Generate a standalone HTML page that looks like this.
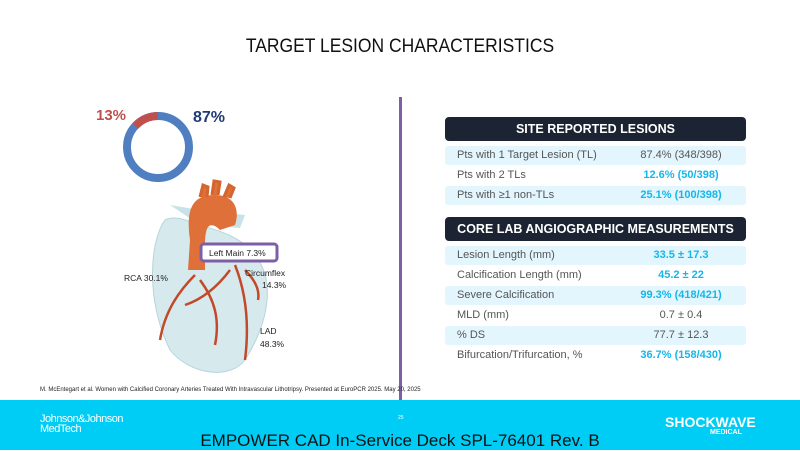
<!DOCTYPE html>
<html><head><style>
body{margin:0;width:800px;height:450px;overflow:hidden;background:#fff;font-family:"Liberation Sans",sans-serif;position:relative}
.a{position:absolute}
.hdr{position:absolute;left:445px;width:301px;height:24px;background:#1c2433;border-radius:4px;color:#fff;font-weight:bold;font-size:12.5px;text-align:center;line-height:24px}
.row{position:absolute;left:445px;width:301px;height:19px;font-size:11px;color:#555;line-height:19px;border-radius:3px}
.row.s{background:#e3f5fd}
.row span{position:absolute;left:12px}
.row b{position:absolute;left:180px;width:112px;text-align:center;font-weight:normal}
.row b.c{color:#14b7ea;font-weight:bold}
</style></head><body>
<div class="a" style="left:0;top:36px;width:800px;text-align:center;font-size:19px;color:#111;transform:scaleX(0.92)">TARGET LESION CHARACTERISTICS</div>
<div class="a" style="left:399px;top:97px;width:3px;height:303px;background:#7d5fa6"></div>
<svg class="a" style="left:0;top:0" width="400" height="400">
<circle cx="158" cy="147" r="31" fill="none" stroke="#4f7fc0" stroke-width="8"/>
<path d="M158 116 A31 31 0 0 0 135.3 126" fill="none" stroke="#c0504d" stroke-width="8"/>
<text x="96" y="120" font-size="15" font-weight="bold" fill="#c0504d" font-family="Liberation Sans">13%</text>
<text x="193" y="122" font-size="16" font-weight="bold" fill="#1f3b73" font-family="Liberation Sans">87%</text>
<path d="M165 220 C150 240 145 300 170 350 C190 375 230 380 245 360 C270 320 275 280 255 255 C240 235 215 230 200 225 C185 220 175 215 165 220Z" fill="#d6eaee" stroke="#b7d4da"/>
<path d="M170 205 L200 210 L245 215 L240 228 L200 225Z" fill="#c9e2e8"/>
<path d="M190 240 C185 205 195 195 215 195 C235 195 240 210 235 225 L220 230 C210 220 205 225 205 245 L205 270 L188 270Z" fill="#e0703a"/>
<path d="M200 197 l3 -12 l5 2 l-1 10 M212 195 l2 -14 l6 1 l-2 13 M224 197 l5 -12 l5 3 l-4 10" fill="#e0703a" stroke="#d26530" stroke-width="3"/>
<path d="M195 275 C180 290 165 310 160 340 M200 280 C215 300 220 320 215 345 M235 265 C245 290 250 320 245 360 M230 270 C215 290 200 300 185 305 M245 270 C255 280 260 290 258 300" fill="none" stroke="#c2492a" stroke-width="2.5"/>
<rect x="201" y="244" width="76" height="17" rx="3" fill="#fff" stroke="#7d5fa6" stroke-width="3"/>
<g font-family="Liberation Sans" font-size="8.5" fill="#222">
<text x="209" y="256">Left Main 7.3%</text>
<text x="124" y="281">RCA 30.1%</text>
<text x="245" y="276">Circumflex</text>
<text x="262" y="288">14.3%</text>
<text x="260" y="334">LAD</text>
<text x="260" y="347">48.3%</text>
</g>
</svg>
<div class="hdr" style="top:117px">SITE REPORTED LESIONS</div>
<div class="row s" style="top:146px"><span>Pts with 1 Target Lesion (TL)</span><b>87.4% (348/398)</b></div>
<div class="row" style="top:166px"><span>Pts with 2 TLs</span><b class="c">12.6% (50/398)</b></div>
<div class="row s" style="top:186px"><span>Pts with ≥1 non-TLs</span><b class="c">25.1% (100/398)</b></div>
<div class="hdr" style="top:217px">CORE LAB ANGIOGRAPHIC MEASUREMENTS</div>
<div class="row s" style="top:246px"><span>Lesion Length (mm)</span><b class="c">33.5 ± 17.3</b></div>
<div class="row" style="top:266px"><span>Calcification Length (mm)</span><b class="c">45.2 ± 22</b></div>
<div class="row s" style="top:286px"><span>Severe Calcification</span><b class="c">99.3% (418/421)</b></div>
<div class="row" style="top:306px"><span>MLD (mm)</span><b>0.7 ± 0.4</b></div>
<div class="row s" style="top:326px"><span>% DS</span><b>77.7 ± 12.3</b></div>
<div class="row" style="top:346px"><span>Bifurcation/Trifurcation, %</span><b class="c">36.7% (158/430)</b></div>
<div class="a" style="left:40px;top:387px;font-size:6px;color:#222">M. McEntegart et al. Women with Calcified Coronary Arteries Treated With Intravascular Lithotripsy. Presented at EuroPCR 2025. May 20, 2025</div>
<div class="a" style="left:0;top:400px;width:800px;height:50px;background:#00cdf5"></div>
<div class="a" style="left:40px;top:414px;font-size:11px;line-height:10px;color:#fff;letter-spacing:-0.5px">Johnson&amp;Johnson<br>MedTech</div>
<div class="a" style="left:398px;top:415px;font-size:5px;color:#fff">25</div>
<div class="a" style="left:665px;top:414px;font-size:14px;font-weight:bold;color:#fff">SHOCKWAVE</div>
<div class="a" style="left:710px;top:429px;font-size:7px;font-weight:bold;color:#fff">MEDICAL</div>
<div class="a" style="left:0;top:431px;width:800px;text-align:center;font-size:17px;color:#111">EMPOWER CAD In-Service Deck SPL-76401 Rev. B</div>
</body></html>
